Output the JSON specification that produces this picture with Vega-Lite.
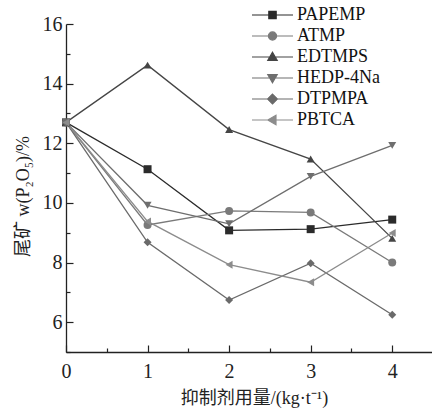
{
  "$schema": "https://vega.github.io/schema/vega-lite/v6.json",
  "width": 367,
  "height": 328,
  "autosize": {"type": "none"},
  "padding": {"left": 66, "top": 24, "right": 0, "bottom": 59},
  "config": {
    "view": {"stroke": null},
    "axis": {
      "domainColor": "#222",
      "domainWidth": 1.3,
      "tickColor": "#222",
      "tickWidth": 1.2,
      "labelColor": "#222",
      "labelFont": "Liberation Serif",
      "labelFontSize": 20,
      "titleFont": "Liberation Serif, Noto Sans CJK SC",
      "titleFontSize": 18,
      "titleFontWeight": "normal",
      "titleColor": "#222",
      "grid": false,
      "labelFlush": false,
      "labelOverlap": false
    }
  },
  "data": {
    "values": [
      {"x": 0, "y": 12.7, "s": "PAPEMP"},
      {"x": 1, "y": 11.13, "s": "PAPEMP"},
      {"x": 2, "y": 9.08, "s": "PAPEMP"},
      {"x": 3, "y": 9.12, "s": "PAPEMP"},
      {"x": 4, "y": 9.44, "s": "PAPEMP"},
      {"x": 0, "y": 12.7, "s": "ATMP"},
      {"x": 1, "y": 9.26, "s": "ATMP"},
      {"x": 2, "y": 9.73, "s": "ATMP"},
      {"x": 3, "y": 9.68, "s": "ATMP"},
      {"x": 4, "y": 8.0, "s": "ATMP"},
      {"x": 0, "y": 12.7, "s": "EDTMPS"},
      {"x": 1, "y": 14.62, "s": "EDTMPS"},
      {"x": 2, "y": 12.46, "s": "EDTMPS"},
      {"x": 3, "y": 11.47, "s": "EDTMPS"},
      {"x": 4, "y": 8.81, "s": "EDTMPS"},
      {"x": 0, "y": 12.7, "s": "HEDP-4Na"},
      {"x": 1, "y": 9.92, "s": "HEDP-4Na"},
      {"x": 2, "y": 9.3, "s": "HEDP-4Na"},
      {"x": 3, "y": 10.89, "s": "HEDP-4Na"},
      {"x": 4, "y": 11.93, "s": "HEDP-4Na"},
      {"x": 0, "y": 12.7, "s": "DTPMPA"},
      {"x": 1, "y": 8.68, "s": "DTPMPA"},
      {"x": 2, "y": 6.74, "s": "DTPMPA"},
      {"x": 3, "y": 7.98, "s": "DTPMPA"},
      {"x": 4, "y": 6.25, "s": "DTPMPA"},
      {"x": 0, "y": 12.7, "s": "PBTCA"},
      {"x": 1, "y": 9.38, "s": "PBTCA"},
      {"x": 2, "y": 7.93, "s": "PBTCA"},
      {"x": 3, "y": 7.34, "s": "PBTCA"},
      {"x": 4, "y": 8.99, "s": "PBTCA"}
    ]
  },
  "encoding": {
    "x": {
      "field": "x",
      "type": "quantitative",
      "scale": {"domain": [0, 4.5], "nice": false},
      "axis": {
        "title": "抑制剂用量/(kg·t⁻¹)",
        "values": [0, 0.5, 1, 1.5, 2, 2.5, 3, 3.5, 4],
        "labelExpr": "datum.value % 1 === 0 ? format(datum.value, 'd') : ''",
        "tickSize": {"condition": {"test": "datum.value % 1 !== 0", "value": -4}, "value": -7},
        "labelPadding": 16,
        "titleX": 188,
        "titleY": 51,
        "titleAnchor": "middle",
        "titleAlign": "center",
        "titleBaseline": "alphabetic"
      }
    },
    "y": {
      "field": "y",
      "type": "quantitative",
      "scale": {"domain": [5, 16], "nice": false, "zero": false},
      "axis": {
        "title": "尾矿 w(P₂O₅)/%",
        "values": [5, 6, 7, 8, 9, 10, 11, 12, 13, 14, 15, 16],
        "labelExpr": "datum.value % 2 === 0 ? format(datum.value, 'd') : ''",
        "tickSize": {"condition": {"test": "datum.value % 2 !== 0", "value": -4}, "value": -7},
        "labelPadding": 11,
        "titleX": -38,
        "titleY": 172,
        "titleAngle": -90,
        "titleAlign": "center",
        "titleBaseline": "alphabetic"
      }
    },
    "color": {
      "field": "s",
      "type": "nominal",
      "scale": {
        "domain": ["PAPEMP", "ATMP", "EDTMPS", "HEDP-4Na", "DTPMPA", "PBTCA"],
        "range": ["#2b2b2b", "#7a7a7a", "#454545", "#6e6e6e", "#6a6a6a", "#8c8c8c"]
      },
      "legend": null
    }
  },
  "layer": [
    {
      "mark": {"type": "line", "strokeWidth": 1.3},
      "encoding": {"detail": {"field": "s"}}
    },
    {
      "mark": {"type": "point", "filled": true, "opacity": 1, "size": 64},
      "encoding": {
        "shape": {
          "field": "s",
          "type": "nominal",
          "scale": {
            "domain": ["PAPEMP", "ATMP", "EDTMPS", "HEDP-4Na", "DTPMPA", "PBTCA"],
            "range": ["square", "circle", "triangle-up", "triangle-down", "diamond", "triangle-left"]
          },
          "legend": null
        }
      }
    },
    {
      "mark": {"type": "point", "filled": true, "opacity": 0},
      "encoding": {
        "color": {"value": "#555"},
        "shape": {
          "field": "s",
          "type": "nominal",
          "scale": {
            "domain": ["PAPEMP", "ATMP", "EDTMPS", "HEDP-4Na", "DTPMPA", "PBTCA"],
            "range": [
              "M-1,0H1M-0.18,-0.18H0.18V0.18H-0.18Z",
              "M-1,0H1M-0.2,0A0.2,0.2,0,1,0,0.2,0A0.2,0.2,0,1,0,-0.2,0Z",
              "M-1,0H1M0,-0.23L0.23,0.17L-0.23,0.17Z",
              "M-1,0H1M0,0.23L0.23,-0.17L-0.23,-0.17Z",
              "M-1,0H1M0,-0.24L0.24,0L0,0.24L-0.24,0Z",
              "M-1,0H1M-0.23,0L0.17,-0.23L0.17,0.23Z"
            ]
          },
          "legend": {
            "title": null,
            "orient": "none",
            "legendX": 185,
            "legendY": -19.5,
            "padding": 0,
            "rowPadding": 0,
            "clipHeight": 21,
            "symbolSize": 1681,
            "symbolStrokeWidth": 1.2,
            "symbolStrokeColor": "#555",
            "symbolFillColor": "#555",
            "symbolOpacity": 1,
            "labelOffset": 3,
            "labelFont": "Liberation Serif",
            "labelFontSize": 18,
            "labelColor": "#111",
            "encoding": {
              "symbols": {
                "fill": {"value": {"expr": "scale('color', datum.value)"}},
                "stroke": {"value": {"expr": "scale('color', datum.value)"}},
                "strokeWidth": {"value": 1.2},
                "opacity": {"value": 1}
              }
            }
          }
        }
      }
    }
  ],
  "resolve": {"scale": {"shape": "independent"}, "legend": {"shape": "independent"}}
}
